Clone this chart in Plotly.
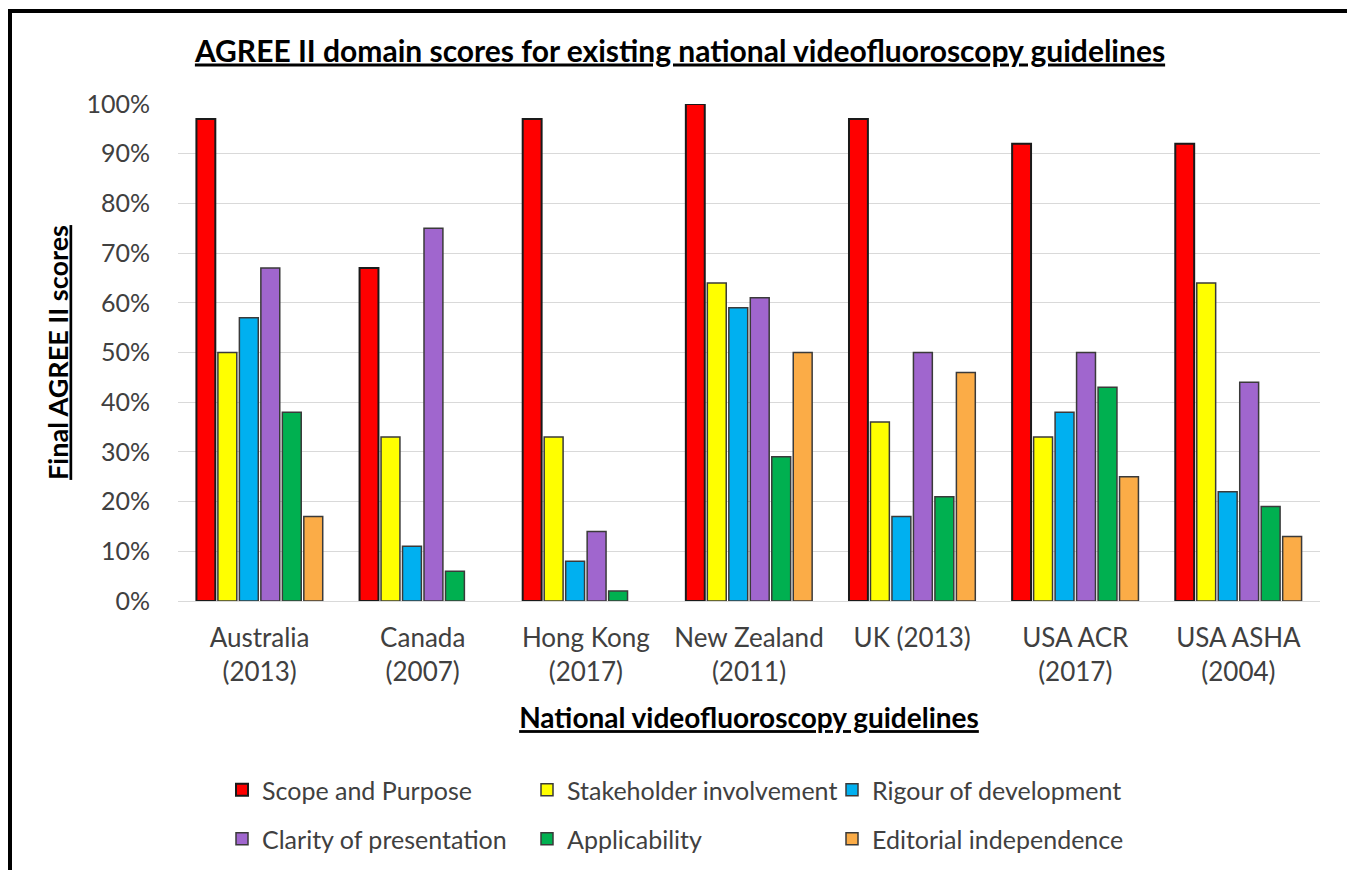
import plotly.graph_objects as go

categories = ["Australia<br>(2013)", "Canada<br>(2007)", "Hong Kong<br>(2017)",
              "New Zealand<br>(2011)", "UK (2013)", "USA ACR<br>(2017)", "USA ASHA<br>(2004)"]
series_names = ["Scope and Purpose", "Stakeholder involvement", "Rigour of development",
                "Clarity of presentation", "Applicability", "Editorial independence"]
scope = [0.97, 0.67, 0.97, 1.00, 0.97, 0.92, 0.92]
stakeholder = [0.50, 0.33, 0.33, 0.64, 0.36, 0.33, 0.64]
rigour = [0.57, 0.11, 0.08, 0.59, 0.17, 0.38, 0.22]
clarity = [0.67, 0.75, 0.14, 0.61, 0.50, 0.50, 0.44]
applicability = [0.38, 0.06, 0.02, 0.29, 0.21, 0.43, 0.19]
editorial = [0.17, None, None, 0.50, 0.46, 0.25, 0.13]
yticks = [0, 0.1, 0.2, 0.3, 0.4, 0.5, 0.6, 0.7, 0.8, 0.9, 1.0]

values = [scope, stakeholder, rigour, clarity, applicability, editorial]
fills = ["#FF0000", "#FFFF00", "#00B0F0", "#A066CE", "#00B050", "#FBAC47"]
outlines = ["#1a1a1a", "#3a3a3a", "#3a3a3a", "#3a3a3a", "#3a3a3a", "#3a3a3a"]

FONT = "Lato"
OFF = 8  # page body margin
W, H = 1355 - OFF, 870 - OFF
# plot area in page pixels
PL, PR, PT, PB = 178, 1320, 104, 601
L, R, T, B = PL - OFF, PR - OFF, PT - OFF, PB - OFF

fig = go.Figure()
for i, (name, vals) in enumerate(zip(series_names, values)):
    fig.add_trace(go.Bar(
        x=categories, y=vals, name=name,
        marker=dict(color=fills[i], line=dict(color=outlines[i], width=2 if i == 0 else 1.5)),
        legend="legend" if i < 3 else "legend2",
    ))

def px_x(px):  # page px -> paper
    return (px - PL) / (PR - PL)

def px_y(py):
    return (PB - py) / (PB - PT)

def cont_x(px):  # page px -> container fraction
    return (px - OFF) / W

def cont_y(py):
    return 1 - (py - OFF) / H

legend_common = dict(orientation="h", xanchor="left", yanchor="middle",
                     xref="container", yref="container",
                     font=dict(family=FONT, size=25, color="#404040"),
                     entrywidth=260, itemwidth=30, traceorder="normal",
                     bgcolor="rgba(0,0,0,0)")

fig.update_layout(
    width=W, height=H,
    margin=dict(l=L, r=W - R, t=T, b=H - B, autoexpand=False),
    paper_bgcolor="white", plot_bgcolor="white",
    barmode="group", bargap=0.21, bargroupgap=0.12,
    title=dict(text="<b><u>AGREE II domain scores for existing national videofluoroscopy guidelines</u></b>",
               x=cont_x(680), xanchor="center", xref="container",
               y=cont_y(51), yanchor="middle", yref="container",
               font=dict(family=FONT, size=30, color="black")),
    xaxis=dict(tickfont=dict(family=FONT, size=26, color="#404040"), showgrid=False,
               showline=True, linecolor="#d9d9d9", linewidth=1, ticks="",
               ticklabelstandoff=14,
               title=dict(text="<b><u>National videofluoroscopy guidelines</u></b>",
                          font=dict(family=FONT, size=28, color="black"), standoff=22)),
    yaxis=dict(range=[0, 1.0], tickvals=yticks, tickformat=".0%",
               tickfont=dict(family=FONT, size=25, color="#404040"),
               showgrid=True, gridcolor="#d9d9d9", gridwidth=1, zeroline=False,
               ticks="", ticklabelstandoff=27,
               title=dict(text="<b><u>Final AGREE II scores</u></b>",
                          font=dict(family=FONT, size=27, color="black"), standoff=10)),
    legend=dict(x=cont_x(222), y=cont_y(790), **legend_common),
    legend2=dict(x=cont_x(222), y=cont_y(839), **legend_common),
    showlegend=True,
)

# outer frame
fig.add_shape(type="rect", xref="paper", yref="paper",
              x0=px_x(10), x1=px_x(1350), y0=px_y(900), y1=px_y(11),
              line=dict(color="black", width=4), fillcolor="rgba(0,0,0,0)", layer="above")

fig.write_html("out.html")
